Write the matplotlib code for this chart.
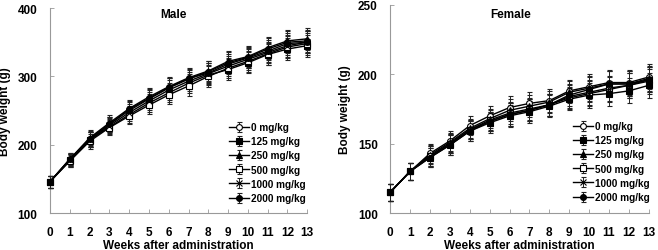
import matplotlib
matplotlib.use('Agg')
import matplotlib.pyplot as plt

plt.rcParams['font.family'] = ['Liberation Sans', 'DejaVu Sans']
plt.rcParams['font.weight'] = 'bold'

weeks = list(range(14))
groups = ['0 mg/kg', '125 mg/kg', '250 mg/kg', '500 mg/kg', '1000 mg/kg', '2000 mg/kg']

# 雄の体重 (g)
male = {
    '0 mg/kg':    [146, 178, 209, 230, 250, 267, 283, 296, 307, 320, 328, 340, 350, 352],
    '125 mg/kg':  [146, 177, 207, 226, 244, 261, 276, 290, 302, 310, 320, 332, 340, 345],
    '250 mg/kg':  [146, 179, 210, 232, 253, 270, 285, 298, 308, 322, 329, 342, 352, 355],
    '500 mg/kg':  [146, 176, 205, 225, 242, 258, 273, 286, 300, 312, 322, 333, 343, 348],
    '1000 mg/kg': [146, 178, 207, 228, 247, 264, 280, 293, 304, 315, 325, 335, 345, 350],
    '2000 mg/kg': [146, 179, 208, 230, 252, 268, 284, 297, 305, 318, 327, 337, 348, 350],
}
male_err = [9, 9, 11, 11, 12, 13, 14, 14, 15, 15, 15, 16, 16, 16]

# 雌の体重 (g)
female = {
    '0 mg/kg':    [115, 130, 143, 152, 163, 170, 176, 179, 181, 188, 191, 194, 194, 198],
    '125 mg/kg':  [115, 130, 140, 149, 159, 165, 170, 173, 177, 182, 185, 186, 188, 192],
    '250 mg/kg':  [115, 130, 142, 151, 161, 168, 174, 177, 180, 187, 190, 193, 193, 197],
    '500 mg/kg':  [115, 130, 141, 150, 160, 167, 172, 175, 178, 184, 187, 190, 192, 196],
    '1000 mg/kg': [115, 130, 141, 150, 160, 166, 171, 174, 178, 183, 186, 189, 192, 195],
    '2000 mg/kg': [115, 130, 140, 149, 159, 166, 171, 174, 178, 185, 189, 193, 193, 196],
}
female_err = [6, 6, 7, 7, 7, 7, 8, 8, 8, 8, 9, 9, 9, 9]

styles = {
    '0 mg/kg':    dict(marker='o', mfc='white'),
    '125 mg/kg':  dict(marker='s', mfc='black'),
    '250 mg/kg':  dict(marker='^', mfc='black'),
    '500 mg/kg':  dict(marker='s', mfc='white'),
    '1000 mg/kg': dict(marker='x', mfc='black'),
    '2000 mg/kg': dict(marker='o', mfc='black'),
}

fig = plt.figure(figsize=(6.58, 2.51), dpi=100)
ax1 = fig.add_axes([0.076, 0.147, 0.391, 0.817])
ax2 = fig.add_axes([0.593, 0.147, 0.393, 0.830])


def draw(ax, data, err, ylim, yticks, title, title_xy, xpad, xlabelpad, leg_xy):
    for g in groups:
        st = styles[g]
        ax.errorbar(weeks, data[g], yerr=err, color='black', lw=1.0,
                    marker=st['marker'], mfc=st['mfc'], mec='black', ms=4.2,
                    mew=0.8, elinewidth=0.7, capsize=1.8, capthick=0.7,
                    ecolor='#222222', label=g, clip_on=False, zorder=3)
    ax.set_xlim(0, 13)
    ax.set_ylim(*ylim)
    ax.set_xticks(weeks)
    ax.set_yticks(yticks)
    for s in ['top', 'right']:
        ax.spines[s].set_visible(False)
    for s in ['left', 'bottom']:
        ax.spines[s].set_color('#999999')
        ax.spines[s].set_linewidth(0.8)
    ax.tick_params(axis='both', direction='in', length=3, width=0.6,
                   color='#999999', labelsize=8.5)
    ax.tick_params(axis='x', pad=xpad)
    ax.tick_params(axis='y', pad=9)
    for lbl in ax.get_xticklabels() + ax.get_yticklabels():
        lbl.set_fontweight('bold')
    ax.set_xlabel('Weeks after administration', fontsize=8.5, fontweight='bold',
                  labelpad=xlabelpad)
    ax.set_ylabel('Body weight (g)', fontsize=8.5, fontweight='bold', labelpad=5)
    fig.text(title_xy[0] / 658, 1 - title_xy[1] / 251, title, ha='center',
             va='center', fontsize=8.5, fontweight='bold')
    leg = ax.legend(loc='upper left', bbox_to_anchor=leg_xy,
                    bbox_transform=fig.transFigure, frameon=False,
                    fontsize=7.2, handlelength=2.0, handletextpad=0.2,
                    labelspacing=0.42, borderpad=0, borderaxespad=0)
    for t in leg.get_texts():
        t.set_fontweight('bold')


draw(ax1, male, male_err, (100, 400), [100, 200, 300, 400], 'Male',
     (173, 15), 9.5, 0.5, (229 / 658, 1 - 123 / 251))
draw(ax2, female, female_err, (100, 250), [100, 150, 200, 250], 'Female',
     (511, 15), 9.5, 0.5, (573 / 658, 1 - 122 / 251))

fig.savefig('out.png', dpi=100)
